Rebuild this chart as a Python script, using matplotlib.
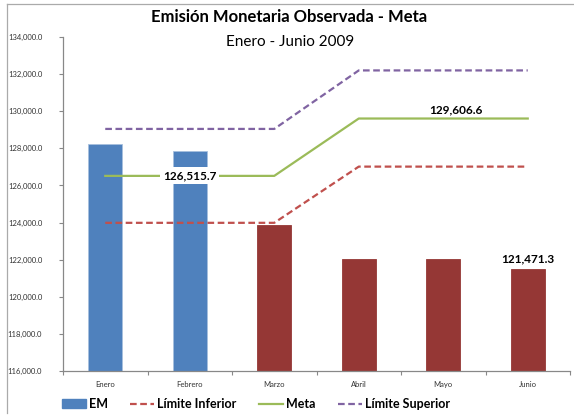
import matplotlib
matplotlib.use("Agg")
import matplotlib.pyplot as plt
from matplotlib.lines import Line2D
from matplotlib.patches import Patch
from matplotlib.ticker import FuncFormatter, MultipleLocator, FixedLocator
import numpy as np

plt.rcParams['font.family'] = ['Lato', 'DejaVu Sans']

months = ["Enero", "Febrero", "Marzo", "Abril", "Mayo", "Junio"]
em = [128230.0, 127850.0, 123870.0, 122030.0, 122030.0, 121471.3]
limite_inferior = [123985.4, 123985.4, 123985.4, 127014.5, 127014.5, 127014.5]
meta = [126515.7, 126515.7, 126515.7, 129606.6, 129606.6, 129606.6]
limite_superior = [129046.0, 129046.0, 129046.0, 132198.7, 132198.7, 132198.7]
bar_colors = ["#4F81BD", "#4F81BD", "#953735", "#953735", "#953735", "#953735"]

fig = plt.figure(figsize=(5.74, 4.19), dpi=100)
ax = fig.add_axes([63/574, 1-371/419, (570-63)/574, (371-37)/419])

x = np.arange(len(months))
ax.bar(x, em, width=0.4, color=bar_colors, bottom=0, zorder=2,
       edgecolor=["#A7C0DE", "#A7C0DE", "#953735", "#953735", "#953735", "#953735"], linewidth=0.6)
ax.plot(x, limite_inferior, color="#C0504D", lw=1.6, ls=(0, (3, 1.6)), zorder=3)
ax.plot(x, meta, color="#9BBB59", lw=1.6, zorder=3)
ax.plot(x, limite_superior, color="#8064A2", lw=1.6, ls=(0, (3, 1.6)), zorder=3)

ax.set_ylim(116000, 134000)
ax.set_xlim(-0.5, 5.5)
ax.yaxis.set_major_locator(MultipleLocator(2000))
ax.yaxis.set_major_formatter(FuncFormatter(lambda v, p: f"{v:,.1f}"))
ax.set_xticks(x)
ax.set_xticklabels(months)
ax.xaxis.set_minor_locator(FixedLocator(np.arange(-0.5, 6.0, 1.0)))
ax.tick_params(axis='x', which='major', length=0, labelsize=5.5, pad=7, labelcolor="#333333")
ax.tick_params(axis='x', which='minor', length=3, color="#888888", width=0.8)
ax.tick_params(axis='y', length=3, color="#888888", width=0.8, labelsize=5.5, labelcolor="#333333", pad=12)
for t in ax.get_yticklabels():
    t.set_horizontalalignment('right')
for s in ["top", "right"]:
    ax.spines[s].set_visible(False)
for s in ["left", "bottom"]:
    ax.spines[s].set_color("#888888")
    ax.spines[s].set_linewidth(0.9)

# data labels
ax.annotate(f"{meta[1]:,.1f}", (1, meta[1]), ha="center", va="center",
            fontsize=8.5, fontweight="bold", zorder=5,
            bbox=dict(boxstyle="square,pad=0.25", fc="white", ec="none"))
ax.annotate(f"{meta[4]:,.1f}", (4, meta[4]), xytext=(9, 6), textcoords="offset points",
            ha="center", va="center", fontsize=8.5, fontweight="bold", zorder=5)
ax.annotate(f"{em[5]:,.1f}", (5, em[5]), xytext=(0, 8), textcoords="offset points",
            ha="center", va="center", fontsize=8.5, fontweight="bold", zorder=5)

fig.text(289/574, 1-17/419, "Emisión Monetaria Observada - Meta", ha="center", va="center",
         fontsize=12, fontweight="bold")
fig.text(290/574, 1-42/419, "Enero - Junio 2009", ha="center", va="center", fontsize=11)

handles = [Patch(color="#4F81BD"),
           Line2D([], [], color="#C0504D", lw=1.6, ls=(0, (3, 1.6))),
           Line2D([], [], color="#9BBB59", lw=1.6),
           Line2D([], [], color="#8064A2", lw=1.6, ls=(0, (3, 1.6)))]
labels = ["EM", "Límite Inferior", "Meta", "Límite Superior"]
fig.legend(handles, labels, loc="center", bbox_to_anchor=(256/574, 1-404/419), ncol=4,
           frameon=False, prop=dict(weight="bold", size=9), handlelength=1.9,
           handletextpad=0.25, columnspacing=1.8)

# chart area border lines
fig.add_artist(Line2D([7/574, 7/574], [1-413/419, 1-4/419], color="#AAAAAA", lw=0.9))
fig.add_artist(Line2D([7/574, 1.0], [1-4/419, 1-4/419], color="#AAAAAA", lw=0.9))

fig.savefig("out.png", dpi=100)
